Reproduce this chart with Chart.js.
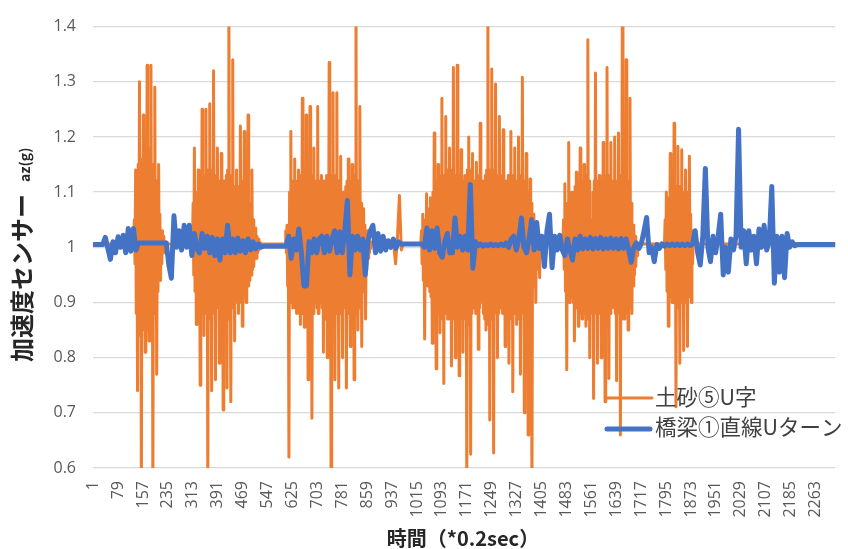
<!DOCTYPE html>
<html><head><meta charset="utf-8">
<script src="https://cdn.jsdelivr.net/npm/chart.js@4.4.1/dist/chart.umd.min.js"></script>
<style>html,body{margin:0;padding:0;background:#fff;}canvas{display:block;}</style>
</head><body>
<canvas id="c" width="848" height="549"></canvas>
<script>
// ---- labels ----
const seriesNames = ['土砂⑤U字', '橋梁①直線Uターン'];
const xTitle = '時間（*0.2sec）';
const yTitleMain = '加速度センサー';
const yTitleSub = 'az(g)';
const xTickLabels = [1,79,157,235,313,391,469,547,625,703,781,859,937,1015,1093,1171,1249,1327,1405,1483,1561,1639,1717,1795,1873,1951,2029,2107,2185,2263];
const yTickLabels = [0.6,0.7,0.8,0.9,1.0,1.1,1.2,1.3,1.4];
const firstIndex = 1, lastIndex = 2324;

// ---- orange series (土砂⑤U字) ----
// resting value, burst extremes every 6 samples, and two in-between samples (dense core) per gap
const orangeRest = 1.006;
const orangeA = [1.006,1.14,0.74,1.30,0.55,1.24,0.81,1.33,0.83,1.33,0.55,1.29,0.77,1.15,0.94,1.03,0.99,1.006];
const orangeCoreA = [1.05,0.97, 0.88,1.10, 1.15,0.86, 0.84,1.16, 1.14,0.85, 0.87,1.15, 1.16,0.86, 0.85,1.18, 1.14,0.87, 0.86,1.15, 1.13,0.88, 0.88,1.12, 1.08,0.92, 0.95,1.06, 1.02,0.97, 0.99,1.02, 1.01,1.0];
const orangeB = [1.006,1.18,0.86,1.14,0.75,1.25,0.84,1.25,0.55,1.26,0.74,1.32,0.76,1.18,0.79,1.17,0.705,1.10,0.745,1.45,0.72,1.34,0.83,1.14,0.88,1.22,0.857,1.21,0.90,1.24,0.94,1.14,0.965,1.035,0.99,1.01,1.006];
const orangeCoreB = [1.08,0.95, 0.92,1.10, 1.10,0.90, 0.90,1.12, 1.12,0.88, 0.90,1.13, 1.12,0.89, 0.88,1.14, 1.13,0.88, 0.87,1.12, 1.14,0.89, 0.88,1.12, 1.13,0.90, 0.89,1.12, 1.11,0.88, 0.87,1.12, 1.12,0.90, 0.88,1.13, 1.14,0.87, 0.88,1.12, 1.13,0.90, 0.89,1.11, 1.10,0.90, 0.91,1.10, 1.11,0.90, 0.90,1.12, 1.10,0.91, 0.92,1.09, 1.10,0.93, 0.93,1.08, 1.06,0.95, 0.96,1.05, 1.03,0.98, 0.98,1.02, 1.015,0.995, 1.0,1.008];
const orangeC = [1.006,1.04,0.62,1.21,0.89,1.16,0.88,1.14,0.86,1.27,0.855,1.24,0.76,1.255,0.69,1.18,0.95,1.255,0.915,1.13,0.81,1.12,0.80,1.335,0.55,1.28,0.76,1.28,0.745,1.165,0.80,1.10,0.745,1.16,0.82,1.15,0.76,1.45,0.85,1.255,0.82,1.07,0.87,1.03,0.99,1.006];
const orangeCoreC = [1.03,0.99, 0.93,1.03, 1.10,0.92, 0.90,1.10, 1.12,0.90, 0.89,1.11, 1.12,0.90, 0.88,1.12, 1.13,0.89, 0.88,1.12, 1.12,0.88, 0.87,1.13, 1.12,0.89, 0.88,1.12, 1.13,0.88, 0.90,1.11, 1.12,0.89, 0.88,1.12, 1.11,0.90, 0.89,1.12, 1.12,0.88, 0.87,1.13, 1.12,0.89, 0.88,1.12, 1.13,0.88, 0.87,1.12, 1.13,0.88, 0.88,1.12, 1.12,0.88, 0.89,1.10, 1.10,0.90, 0.89,1.11, 1.12,0.88, 0.88,1.12, 1.11,0.89, 0.88,1.12, 1.13,0.88, 0.88,1.12, 1.11,0.89, 0.90,1.08, 1.05,0.92, 0.93,1.04, 1.02,0.96, 0.98,1.02, 1.01,0.998];
const orangeS = [1.006,0.97,1.02,1.094,0.995,1.006];
const orangeCoreS = [];
const orangeD = [1.006,1.06,0.834,1.097,0.93,1.09,0.826,1.207,0.78,1.15,0.845,1.27,0.753,1.237,0.87,1.18,0.785,1.326,0.80,1.33,0.767,1.177,0.81,1.13,0.55,1.20,0.625,1.17,0.90,1.154,0.815,1.225,0.93,1.10,0.85,1.45,0.687,1.323,0.627,1.296,0.80,1.237,0.95,1.213,0.82,1.10,0.79,1.21,0.738,1.18,0.86,1.20,0.77,1.308,0.70,1.17,0.66,1.124,0.55,1.06,0.90,1.03,0.945,1.01,1.006];
const orangeCoreD = [1.03,0.97, 0.94,1.04, 1.05,0.94, 0.93,1.06, 1.07,0.92, 0.91,1.08, 1.10,0.90, 0.89,1.11, 1.12,0.89, 0.88,1.12, 1.13,0.88, 0.87,1.13, 1.12,0.88, 0.88,1.14, 1.13,0.87, 0.88,1.12, 1.14,0.88, 0.87,1.13, 1.12,0.88, 0.88,1.12, 1.13,0.87, 0.88,1.12, 1.11,0.89, 0.87,1.13, 1.14,0.86, 0.86,1.14, 1.13,0.88, 0.89,1.12, 1.12,0.88, 0.88,1.13, 1.12,0.89, 0.90,1.11, 1.12,0.88, 0.87,1.13, 1.14,0.86, 0.86,1.14, 1.13,0.87, 0.87,1.14, 1.12,0.88, 0.88,1.13, 1.12,0.88, 0.89,1.12, 1.13,0.88, 0.88,1.12, 1.12,0.87, 0.88,1.13, 1.12,0.88, 0.87,1.12, 1.13,0.88, 0.88,1.12, 1.12,0.88, 0.87,1.13, 1.12,0.88, 0.88,1.12, 1.11,0.89, 0.89,1.10, 1.10,0.90, 0.90,1.08, 1.06,0.93, 0.94,1.04, 1.03,0.96, 0.97,1.02, 1.01,0.98, 1.0,1.007];
const orangeE = [1.006,1.115,0.778,1.19,0.935,1.10,0.83,1.136,0.857,1.18,0.87,1.15,0.857,1.376,0.80,1.05,0.726,1.316,0.79,1.13,0.80,1.19,0.72,1.326,0.762,1.19,0.893,1.20,0.758,1.207,0.66,1.45,0.87,1.34,0.85,1.27,0.88,1.04,0.965,1.006];
const orangeCoreE = [1.05,0.96, 0.92,1.06, 1.08,0.92, 0.90,1.10, 1.09,0.91, 0.90,1.10, 1.11,0.89, 0.89,1.11, 1.12,0.88, 0.89,1.11, 1.12,0.89, 0.88,1.12, 1.13,0.88, 0.87,1.12, 1.04,0.90, 0.88,1.10, 1.12,0.88, 0.88,1.12, 1.12,0.88, 0.89,1.11, 1.12,0.88, 0.88,1.12, 1.13,0.88, 0.87,1.13, 1.12,0.88, 0.89,1.11, 1.12,0.89, 0.88,1.12, 1.12,0.88, 0.88,1.12, 1.13,0.87, 0.87,1.13, 1.12,0.88, 0.88,1.12, 1.11,0.89, 0.90,1.08, 1.03,0.93, 0.95,1.02, 1.0,0.985];
const orangeF = [1.006,1.10,0.857,1.17,0.90,1.225,0.711,1.183,0.79,1.177,0.813,1.14,0.82,1.165,0.90,1.006];
const orangeCoreF = [1.05,0.96, 0.92,1.07, 1.09,0.91, 0.91,1.10, 1.11,0.90, 0.90,1.11, 1.11,0.90, 0.89,1.11, 1.11,0.90, 0.90,1.10, 1.10,0.90, 0.90,1.10, 1.10,0.91, 0.93,1.06, 1.03,0.97];
const orangeStarts = [128,312,602,942,1027,1472,1790];
const orangeStep = 6;

// ---- blue series (橋梁①直線Uターン): sampled every 8 samples ----
const blueStep = 8;
const blueRestStart = 1.005, blueRestEnd = 1.005;
const blueA = [1.005,1.018,0.998,0.978,1.01,0.99,1.019,1.0,1.022,0.99,1.034,0.993,1.034,0.995,1.008];
const blueB = [1.008,0.968,0.944,1.057,1.0,1.03,0.995,1.04,1.0,1.04,0.985,1.025,0.997,0.99,1.025,0.998,1.02,0.99,1.018,0.985,1.015,0.977,1.015,0.99,1.04,0.99,1.015,0.99,1.017,0.993,1.012,0.99,1.015,0.995,1.01,0.997,1.006,1.0,1.002];
const blueC = [1.002,1.02,0.98,1.015,0.995,1.033,0.99,0.93,0.93,1.01,0.99,1.015,0.99,1.015,1.02,0.99,1.02,0.993,1.015,1.03,0.99,1.028,0.99,1.03,1.085,0.95,1.02,0.995,1.02,0.995,1.015,0.95,1.01,1.03,1.04,0.99,1.025,0.993,1.02,0.995,1.012,1.0,1.015,0.998,1.01,1.006];
const blueD = [1.006,1.0,1.035,0.995,1.03,0.998,1.035,0.99,0.982,1.01,1.025,0.99,0.99,1.053,1.0,1.02,0.995,1.02,0.995,1.114,0.962,1.01,1.003,1.006,1.002,1.005,1.003,1.006,1.003,1.005,1.003,1.006,1.003,1.008,1.0];
const blueE = [1.015,1.02,0.995,1.015,1.053,1.0,0.99,1.015,1.05,0.995,1.045,0.998,1.02,0.965,1.03,1.06,0.963,1.02,0.995,1.022,0.995,0.985,1.015,0.995,0.977,1.015,0.995,1.02,0.997,1.015,0.998,1.018,0.997,1.016,0.998,1.018,0.997,1.015,0.998,1.017,0.998,1.015,0.997,1.016,0.998,1.015,0.995,0.973,1.0,1.008,0.998,1.008,1.03,1.054,0.99,1.0,0.974,1.005,0.998,1.006,1.002];
const blueF = [1.006,1.003,1.006,1.003,1.006,1.003,1.006,1.003,1.006,1.003,1.006,1.03,0.99,0.968,1.02,1.143,1.0,0.974,1.02,0.99,1.02,1.06,0.95,1.0,0.955,1.015,0.995,1.02,1.214,1.0,1.03,0.97,1.03,0.995,1.02,0.97,1.033,1.0,1.04,0.995,1.01,1.11,0.935,1.02,0.955,1.02,0.945,1.025,1.0,1.01,1.003,1.005];
const blueStarts = [31,230,605,1030,1310,1798];

function buildOrange() {
  const ext = [orangeA,orangeB,orangeC,orangeS,orangeD,orangeE,orangeF];
  const core = [orangeCoreA,orangeCoreB,orangeCoreC,orangeCoreS,orangeCoreD,orangeCoreE,orangeCoreF];
  const pts = [{x: firstIndex, y: orangeRest}];
  ext.forEach((vals, s) => {
    const st = orangeStarts[s], c = core[s];
    vals.forEach((v, i) => {
      pts.push({x: st + i * orangeStep, y: v});
      if (c.length && i < vals.length - 1) {
        pts.push({x: st + i * orangeStep + orangeStep / 3, y: c[2 * i]});
        pts.push({x: st + i * orangeStep + 2 * orangeStep / 3, y: c[2 * i + 1]});
      }
    });
  });
  pts.push({x: lastIndex, y: orangeRest});
  return pts;
}
function buildBlue() {
  const segs = [blueA,blueB,blueC,blueD,blueE,blueF];
  const pts = [{x: firstIndex, y: blueRestStart}];
  segs.forEach((vals, s) => vals.forEach((v, i) => pts.push({x: blueStarts[s] + i * blueStep, y: v})));
  pts.push({x: lastIndex, y: blueRestEnd});
  return pts;
}

const ORANGE = '#ED7D31', BLUE = '#4472C4';

const decorPlugin = {
  id: 'decor',
  afterDraw(chart) {
    const ctx = chart.ctx;
    ctx.save();
    ctx.fillStyle = '#262626';
    ctx.font = 'bold 20px "Noto Sans CJK JP"';
    ctx.textAlign = 'center';
    ctx.textBaseline = 'middle';
    ctx.fillText(xTitle, 463, 538);
    // y title
    ctx.translate(0, 362);
    ctx.rotate(-Math.PI / 2);
    ctx.textAlign = 'left';
    ctx.textBaseline = 'alphabetic';
    ctx.font = 'bold 24px "Noto Sans CJK JP"';
    const w1 = ctx.measureText(yTitleMain).width;
    ctx.fillText(yTitleMain, 0, 31);
    ctx.font = 'bold 14px "Noto Sans CJK JP"';
    ctx.fillText(yTitleSub, w1 + 12, 30);
    ctx.restore();
    // legend
    ctx.save();
    ctx.lineCap = 'round';
    ctx.strokeStyle = ORANGE; ctx.lineWidth = 3;
    ctx.beginPath(); ctx.moveTo(607, 398); ctx.lineTo(652, 398); ctx.stroke();
    ctx.strokeStyle = BLUE; ctx.lineWidth = 5;
    ctx.beginPath(); ctx.moveTo(607, 429); ctx.lineTo(650, 429); ctx.stroke();
    ctx.fillStyle = '#404040';
    ctx.font = '21.5px "Noto Sans CJK JP"';
    ctx.textAlign = 'left'; ctx.textBaseline = 'middle';
    ctx.fillText(seriesNames[0], 655, 397);
    ctx.fillText(seriesNames[1], 655, 427);
    ctx.restore();
  }
};

new Chart(document.getElementById('c'), {
  type: 'line',
  data: {
    datasets: [
      { label: seriesNames[0], data: buildOrange(), borderColor: ORANGE, borderWidth: 3, pointRadius: 0,
        borderJoinStyle: 'round', borderCapStyle: 'round', tension: 0, order: 1, clip: 0 },
      { label: seriesNames[1], data: buildBlue(), borderColor: BLUE, borderWidth: 5, pointRadius: 0,
        borderJoinStyle: 'round', borderCapStyle: 'round', tension: 0, order: 0, clip: 0 }
    ]
  },
  options: {
    responsive: false,
    animation: false,
    events: [],
    layout: { padding: { left: 0, top: 17, right: 10, bottom: 0 } },
    plugins: { legend: { display: false }, tooltip: { enabled: false } },
    scales: {
      x: {
        type: 'linear', min: 0.5, max: lastIndex + 0.5,
        afterBuildTicks: s => { s.ticks = xTickLabels.map(v => ({ value: v })); },
        afterFit: s => { s.height = 81; },
        grid: { display: false, drawTicks: false },
        border: { display: false },
        ticks: { autoSkip: false, minRotation: 90, maxRotation: 90, padding: 13, color: '#595959',
                 font: { family: '"Open Sans"', size: 16 }, callback: v => String(v) }
      },
      y: {
        min: 0.6, max: 1.4,
        afterBuildTicks: s => { s.ticks = yTickLabels.map(v => ({ value: v })); },
        afterFit: s => { s.width = 93; },
        grid: { color: '#d9d9d9', lineWidth: 1.3, drawTicks: false },
        border: { display: false },
        ticks: { padding: 17, color: '#595959', font: { family: '"Open Sans"', size: 16 },
                 callback: v => String(+(+v).toFixed(1)) }
      }
    }
  },
  plugins: [decorPlugin]
});
</script>
</body></html>
